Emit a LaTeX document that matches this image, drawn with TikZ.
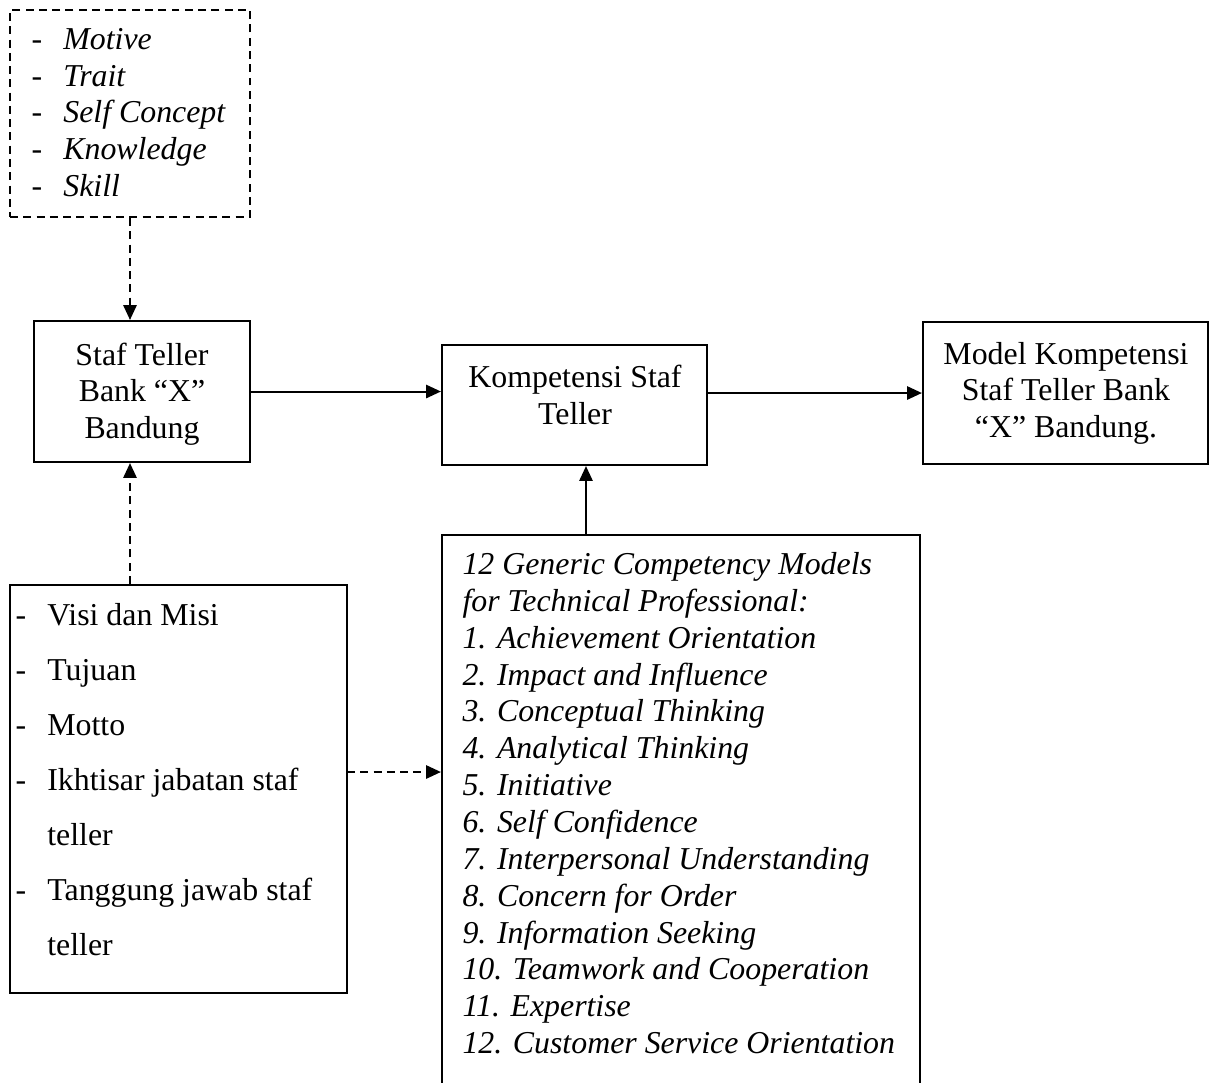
\documentclass[tikz,border=0pt]{standalone}
\usepackage{fontspec}
\setmainfont{Liberation Serif}
\usepackage{tikz}
\usetikzlibrary{arrows.meta,positioning,fit,calc}
\newcommand{\listdash}[1]{\makebox[12pt][l]{-}#1}

\begin{document}
\begin{tikzpicture}[x=0.3768pt, y=-0.3768pt,
  box/.style={draw, line width=0.8pt, inner sep=0pt},
  dashbox/.style={box, dash pattern=on 3pt off 2pt},
  boxtext/.style={inner sep=0pt, align=center, font=\fontsize{12pt}{13.8pt}\selectfont},
  listtext/.style={inner sep=0pt, align=left, anchor=north west},
  solidarrow/.style={line width=0.75pt, -{Triangle[length=5.6pt, width=5pt]}},
  dasharrow/.style={solidarrow, dash pattern=on 3pt off 2pt}]
\useasboundingbox (0,0) rectangle (1210,1082);

\node[dashbox, fit={(10,10) (250,217)}] (motif) {};
\node[listtext, font=\fontsize{12pt}{13.8pt}\selectfont] (motiftext) at (31,28) {%
\listdash{\textit{Motive}}\\
\listdash{\textit{Trait}}\\
\listdash{\textit{Self Concept}}\\
\listdash{\textit{Knowledge}}\\
\listdash{\textit{Skill}}};

\node[box, fit={(34,321) (250,462)}] (staf) {};
\node[boxtext] (staftext) at (142,394) {Staf Teller\\ Bank ``X''\\ Bandung};
\node[box, fit={(442,345) (707,465)}] (kompetensi) {};
\node[boxtext] (komptext) at (575,395) {Kompetensi Staf\\ Teller};
\node[box, fit={(923,322) (1208,464)}] (model) {};
\node[boxtext] (modeltext) at (1066,393) {Model Kompetensi\\ Staf Teller Bank\\ ``X'' Bandung.};

\node[box, fit={(10,585) (347,993)}] (profil) {};
\node[listtext, font=\fontsize{12pt}{20.7pt}\selectfont] (profiltext) at (15,603) {%
\listdash{Visi dan Misi}\\
\listdash{Tujuan}\\
\listdash{Motto}\\
\listdash{Ikhtisar jabatan staf}\\
\hspace*{12pt}teller\\
\listdash{Tanggung jawab staf}\\
\hspace*{12pt}teller};

\node[box, fit={(442,535) (920,1100)}] (generik) {};
\node[listtext, font=\fontsize{12pt}{13.88pt}\selectfont\itshape] (generiktext) at (462,552) {%
12 Generic Competency Models\\
for Technical Professional:\\
1. Achievement Orientation\\
2. Impact and Influence\\
3. Conceptual Thinking\\
4. Analytical Thinking\\
5. Initiative\\
6. Self Confidence\\
7. Interpersonal Understanding\\
8. Concern for Order\\
9. Information Seeking\\
10. Teamwork and Cooperation\\
11. Expertise\\
12. Customer Service Orientation};

\coordinate (naik) at (586,535);
\coordinate (profilkanan) at (347,772);

\draw[dasharrow] (motif.south) -- (motif.south |- staf.north);
\draw[dasharrow] (profil.north -| motif.south) -- (staf.south -| motif.south);
\draw[solidarrow] (staf.east) -- (staf.east -| kompetensi.west);
\draw[solidarrow] (model.west -| kompetensi.east) -- (model.west);
\draw[solidarrow] (naik) -- (naik |- kompetensi.south);
\draw[dasharrow] (profilkanan) -- (profilkanan -| generik.west);
\end{tikzpicture}
\end{document}
